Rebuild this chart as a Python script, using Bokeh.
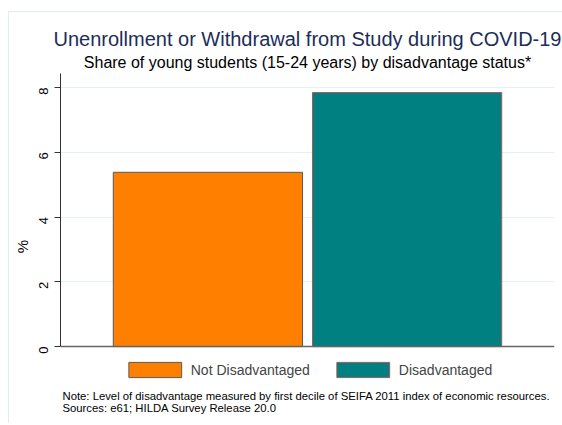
from bokeh.plotting import figure
from bokeh.models import FactorRange, Range1d, Title, Legend, LegendItem, ColumnDataSource, FixedTicker, Span, Label
from bokeh.embed import file_html
from bokeh.resources import INLINE
import math

categories = ["Not Disadvantaged", "Disadvantaged"]
values = [5.38, 7.84]
colors = ["#ff7f00", "#008080"]
outlines = ["#5a5a5a", "#a05a5a"]
y_ticks = [0, 2, 4, 6, 8]

title_text = "Unenrollment or Withdrawal from Study during COVID-19"
subtitle_text = "Share of young students (15-24 years) by disadvantage status*"
y_label = "%"
note1 = "Note: Level of disadvantage measured by first decile of SEIFA 2011 index of economic resources."
note2 = "Sources: e61; HILDA Survey Release 20.0"

FONT = "Liberation Sans"
Y_TOP = 8.43
Y_BOTTOM = -2.25

src = ColumnDataSource(dict(cat=categories, val=values, color=colors, line=outlines))

p = figure(frame_width=494, frame_height=346, output_backend="svg", toolbar_location=None,
           x_range=FactorRange(*categories, range_padding=0.24, range_padding_units="absolute"),
           y_range=Range1d(Y_BOTTOM, Y_TOP), x_axis_location=None,
           min_border_left=51, min_border_right=8, min_border_top=61, min_border_bottom=4)
p.styles = {"margin-left": "8px", "margin-top": "11px",
            "border-left": "1px solid #e3ecef", "border-top": "1px solid #e3ecef"}

r = p.vbar(x="cat", top="val", width=0.95, source=src, fill_color="color",
           line_color="line", line_width=1)
p.add_layout(Span(location=0, dimension="width", line_color="#666666", line_width=1.5))

p.title.text = title_text
p.title.text_font = FONT
p.title.text_font_size = "20px"
p.title.text_font_style = "normal"
p.title.text_color = "#1c2d5a"
p.title.align = "center"
p.title.standoff = 0
p.add_layout(Title(text=subtitle_text, text_font=FONT, text_font_size="16px", standoff=5,
                   text_font_style="normal", text_color="#000000", align="center"), "above")

p.outline_line_color = None
p.background_fill_color = "white"
p.xgrid.visible = False
p.ygrid.grid_line_color = "#e6eff2"
p.ygrid.grid_line_width = 1
p.yaxis.bounds = (0, Y_TOP)
p.yaxis.ticker = FixedTicker(ticks=y_ticks)
p.yaxis.major_label_orientation = math.pi / 2
p.yaxis.major_label_text_font = FONT
p.yaxis.major_label_text_font_size = "13px"
p.yaxis.major_label_text_color = "#000000"
p.yaxis.major_label_standoff = 11
p.yaxis.axis_line_color = "#333333"
p.yaxis.major_tick_line_color = "#333333"
p.yaxis.major_tick_out = 6
p.yaxis.major_tick_in = 0
p.yaxis.minor_tick_line_color = None
p.yaxis.axis_label = y_label
p.yaxis.axis_label_text_font = FONT
p.yaxis.axis_label_text_font_size = "15px"
p.yaxis.axis_label_text_font_style = "normal"
p.yaxis.axis_label_text_color = "#000000"
p.yaxis.axis_label_standoff = 1

legend = Legend(items=[LegendItem(label=c, renderers=[r], index=i) for i, c in enumerate(categories)],
                orientation="horizontal", location="bottom_center",
                glyph_width=66, glyph_height=19, spacing=20, label_standoff=3,
                label_text_font=FONT, label_text_font_size="14px",
                border_line_color=None, background_fill_alpha=0, padding=0, margin=40)
p.add_layout(legend, "center")

p.add_layout(Label(x=-0.23, y=-1.52, text=note1, text_align="left", text_baseline="middle",
                   text_font=FONT, text_font_size="11.3px", text_color="#000000"))
p.add_layout(Label(x=-0.23, y=-1.89, text=note2, text_align="left", text_baseline="middle",
                   text_font=FONT, text_font_size="11.3px", text_color="#000000"))

open("out.html", "w").write(file_html(p, INLINE))
